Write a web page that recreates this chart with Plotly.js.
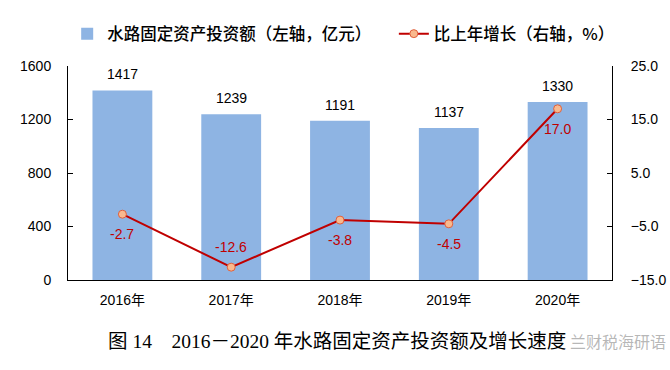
<!DOCTYPE html>
<html>
<head>
<meta charset="utf-8">
<script src="https://cdn.plot.ly/plotly-3.0.1.min.js"></script>
<style>html,body{margin:0;padding:0;background:#fff;}#chart{width:670px;height:370px;}</style>
</head>
<body>
<div id="chart"></div>
<script>
// ---- data ----
const years = ['2016年', '2017年', '2018年', '2019年', '2020年'];
const investment = [1417, 1239, 1191, 1137, 1330];      // 亿元, left axis
const growth = [-2.7, -12.6, -3.8, -4.5, 17.0];          // %, right axis
const barName = '水路固定资产投资额（左轴，亿元）';
const lineName = '比上年增长（右轴，%）';
const caption = '图 14　2016－2020 年水路固定资产投资额及增长速度';
const watermark = '兰财税海研语';

// ---- styling ----
const numFont = 'Arial, "Liberation Sans", "Noto Sans CJK SC", sans-serif';
const cjkFont = '"Noto Sans CJK SC", "Liberation Sans", sans-serif';
const growthLabelSide = [-1, 1, -1, -1, -1]; // -1 below marker, 1 above

const traces = [
  {
    type: 'bar', x: years, y: investment, name: barName,
    marker: {color: '#8EB4E3'}, yaxis: 'y', hoverinfo: 'none', legend: 'legend'
  },
  {
    type: 'scatter', mode: 'lines+markers', x: years, y: growth, name: lineName,
    yaxis: 'y2', legend: 'legend2',
    line: {color: '#C00000', width: 2},
    marker: {size: 8, color: '#F9B98E', line: {color: '#E0603C', width: 1}},
    hoverinfo: 'none'
  }
];

const annotations = [];
years.forEach((yr, i) => {
  annotations.push({
    x: yr, y: investment[i], xref: 'x', yref: 'y', text: String(investment[i]),
    showarrow: false, yanchor: 'bottom', yshift: 6,
    font: {family: numFont, size: 14, color: '#000'}
  });
  annotations.push({
    x: yr, y: growth[i], xref: 'x', yref: 'y2', text: growth[i].toFixed(1),
    showarrow: false, yanchor: 'middle', yshift: 20 * growthLabelSide[i],
    font: {family: numFont, size: 14, color: '#C00000'}
  });
});
annotations.push({
  x: 0.495, y: -0.286, xref: 'paper', yref: 'paper', text: caption,
  showarrow: false, xanchor: 'center', yanchor: 'middle',
  font: {family: '"Liberation Serif", "Times New Roman", "Noto Sans CJK SC", serif', size: 19.5, color: '#000'}
});
annotations.push({
  x: 1.103, y: -0.286, xref: 'paper', yref: 'paper', text: watermark,
  showarrow: false, xanchor: 'right', yanchor: 'middle',
  font: {family: cjkFont, size: 16, color: 'rgba(160,160,160,0.75)'}
});

const legendCommon = {
  orientation: 'h', yanchor: 'middle', y: 1.15, xanchor: 'left',
  font: {family: cjkFont, size: 16.5, color: '#000', weight: 500},
  itemwidth: 30, bgcolor: 'rgba(0,0,0,0)', borderwidth: 0
};

const layout = {
  width: 670, height: 370,
  margin: {l: 68, r: 58, t: 66, b: 90, pad: 0},
  paper_bgcolor: '#fff', plot_bgcolor: '#fff',
  bargap: 0.45,
  showlegend: true,
  legend: Object.assign({}, legendCommon, {x: -0.0015}),
  legend2: Object.assign({}, legendCommon, {x: 0.599}),
  xaxis: {
    type: 'category', showline: true, linecolor: '#000', linewidth: 1,
    ticks: '', showgrid: false, zeroline: false,
    tickfont: {family: numFont, size: 14, color: '#000'},
    ticklabelstandoff: 7
  },
  yaxis: {
    range: [0, 1600], tick0: 0, dtick: 400, showline: true, linecolor: '#000', linewidth: 1,
    ticks: 'inside', ticklen: 5, tickcolor: '#000', showgrid: false, zeroline: false,
    tickfont: {family: numFont, size: 14, color: '#000'},
    ticklabelstandoff: 13
  },
  yaxis2: {
    overlaying: 'y', side: 'right', range: [-15, 25], tick0: -15, dtick: 10,
    tickformat: '.1f', showline: true, linecolor: '#000', linewidth: 1,
    ticks: 'inside', ticklen: 5, tickcolor: '#000', showgrid: false, zeroline: false,
    tickfont: {family: numFont, size: 14, color: '#000'},
    ticklabelstandoff: 15
  },
  annotations: annotations
};

Plotly.newPlot('chart', traces, layout, {staticPlot: true, displayModeBar: false});
</script>
</body>
</html>
